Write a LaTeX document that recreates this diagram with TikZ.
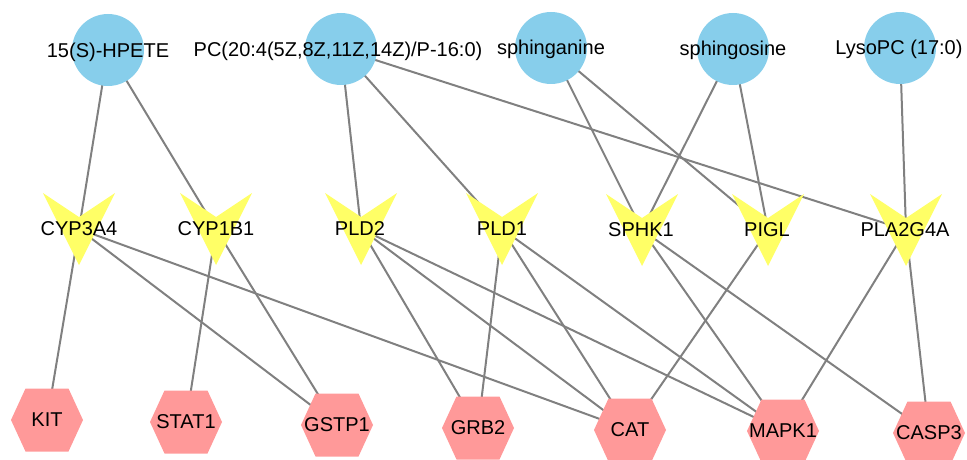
\documentclass[tikz,border=0pt]{standalone}
\usepackage{fontspec}
\setmainfont{Liberation Sans}
\usetikzlibrary{backgrounds}
\definecolor{metblue}{HTML}{87CEEB}
\definecolor{geneyellow}{HTML}{FFFF66}
\definecolor{protpink}{HTML}{FF9999}
\definecolor{edgegray}{HTML}{808080}
\begin{document}
\begin{tikzpicture}[x=1pt,y=-1pt,
  lbl/.style={font=\fontsize{20}{24}\selectfont, text=black, inner sep=0pt},
  met/.style={circle, fill=metblue, minimum size=72pt, inner sep=0pt},
  anchorpt/.style={circle, minimum size=1pt, inner sep=0pt},
  link/.style={draw=edgegray, line width=2pt}]
\useasboundingbox (0,0) rectangle (967,460);
\clip (0,0) rectangle (967,460);
% metabolites
\node[met] (hpete) at (108,50) {};
\node[met] (pc) at (341,49) {};
\node[met] (sphinganine) at (551,48) {};
\node[met] (sphingosine) at (733,49) {};
\node[met] (lysopc) at (900,48) {};
% genes (V shapes)
\node[anchorpt] (cyp3a4) at (79,229) {};
\node[anchorpt] (cyp1b1) at (216,229) {};
\node[anchorpt] (pld2) at (361,229) {};
\node[anchorpt] (pld1) at (502,229) {};
\node[anchorpt] (sphk1) at (642,230) {};
\node[anchorpt] (pigl) at (768,230) {};
\node[anchorpt] (pla2g4a) at (906,230) {};
% proteins (hexagons)
\node[anchorpt] (kit) at (47,420) {};
\node[anchorpt] (stat1) at (186,422) {};
\node[anchorpt] (gstp1) at (337,425) {};
\node[anchorpt] (grb2) at (478,428) {};
\node[anchorpt] (cat) at (630,430) {};
\node[anchorpt] (mapk1) at (783,431) {};
\node[anchorpt] (casp3) at (929,433) {};
\begin{pgfonlayer}{background}
  \draw[link] (hpete.center) -- (cyp3a4.center);
  \draw[link] (hpete.center) -- (cyp1b1.center);
  \draw[link] (pc.center) -- (pld2.center);
  \draw[link] (pc.center) -- (pld1.center);
  \draw[link] (pc.center) -- (pla2g4a.center);
  \draw[link] (sphinganine.center) -- (sphk1.center);
  \draw[link] (sphinganine.center) -- (pigl.center);
  \draw[link] (sphingosine.center) -- (sphk1.center);
  \draw[link] (sphingosine.center) -- (pigl.center);
  \draw[link] (lysopc.center) -- (pla2g4a.center);
  \draw[link] (cyp3a4.center) -- (kit.center);
  \draw[link] (cyp3a4.center) -- (gstp1.center);
  \draw[link] (cyp3a4.center) -- (cat.center);
  \draw[link] (cyp1b1.center) -- (stat1.center);
  \draw[link] (cyp1b1.center) -- (gstp1.center);
  \draw[link] (pld2.center) -- (grb2.center);
  \draw[link] (pld2.center) -- (cat.center);
  \draw[link] (pld2.center) -- (mapk1.center);
  \draw[link] (pld1.center) -- (grb2.center);
  \draw[link] (pld1.center) -- (cat.center);
  \draw[link] (pld1.center) -- (mapk1.center);
  \draw[link] (sphk1.center) -- (mapk1.center);
  \draw[link] (sphk1.center) -- (casp3.center);
  \draw[link] (pigl.center) -- (cat.center);
  \draw[link] (pla2g4a.center) -- (mapk1.center);
  \draw[link] (pla2g4a.center) -- (casp3.center);
  \foreach \g in {cyp3a4,cyp1b1,pld2,pld1,sphk1,pigl,pla2g4a}{
    \fill[geneyellow] ([shift={(-36pt,36pt)}]\g.center) -- ([shift={(0pt,12pt)}]\g.center)
      -- ([shift={(36pt,36pt)}]\g.center) -- ([shift={(0pt,-36pt)}]\g.center) -- cycle;
  }
  \foreach \p in {kit,stat1,gstp1,grb2,cat,mapk1,casp3}{
    \fill[protpink] ([shift={(-36pt,0pt)}]\p.center) -- ([shift={(-21.5pt,31.5pt)}]\p.center)
      -- ([shift={(21.5pt,31.5pt)}]\p.center) -- ([shift={(36pt,0pt)}]\p.center)
      -- ([shift={(21.5pt,-31.5pt)}]\p.center) -- ([shift={(-21.5pt,-31.5pt)}]\p.center) -- cycle;
  }
\end{pgfonlayer}
% labels
\node[lbl] (hpete-t) at (108,52) {15(S)-HPETE};
\node[lbl] (pc-t) at (338,51) {PC(20:4(5Z,8Z,11Z,14Z)/P-16:0)};
\node[lbl] (sphinganine-t) at (551,49) {sphinganine};
\node[lbl] (sphingosine-t) at (733,50) {sphingosine};
\node[lbl] (lysopc-t) at (899,49) {LysoPC (17:0)};
\node[lbl] (cyp3a4-t) at (79,229) {CYP3A4};
\node[lbl] (cyp1b1-t) at (216,229) {CYP1B1};
\node[lbl] (pld2-t) at (360,229) {PLD2};
\node[lbl] (pld1-t) at (502,229) {PLD1};
\node[lbl] (sphk1-t) at (641,230) {SPHK1};
\node[lbl] (pigl-t) at (767,230) {PIGL};
\node[lbl] (pla2g4a-t) at (905,230) {PLA2G4A};
\node[lbl] (kit-t) at (47,420) {KIT};
\node[lbl] (stat1-t) at (186,422) {STAT1};
\node[lbl] (gstp1-t) at (337,425) {GSTP1};
\node[lbl] (grb2-t) at (478,428) {GRB2};
\node[lbl] (cat-t) at (630,430) {CAT};
\node[lbl] (mapk1-t) at (783,431) {MAPK1};
\node[lbl] (casp3-t) at (929,433) {CASP3};
\end{tikzpicture}
\end{document}
